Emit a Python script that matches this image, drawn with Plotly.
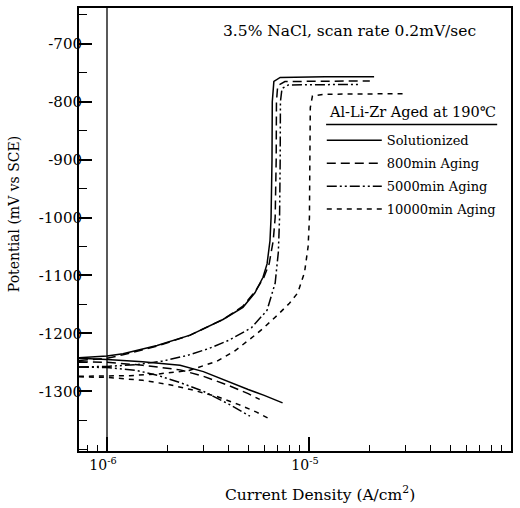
import plotly.graph_objects as go

# ---------------- data (current density A/cm^2, potential mV vs SCE) ----------------
series_names = ["Solutionized", "800min Aging", "5000min Aging", "10000min Aging"]

sol_anod_i = [7.26e-7, 1.0e-6, 1.2e-6, 1.77e-6, 2.58e-6, 3.75e-6, 4.71e-6, 5.4e-6, 5.92e-6,
              6.2e-6, 6.41e-6, 6.49e-6, 6.56e-6, 6.58e-6, 6.7e-6, 7.2e-6, 1.2e-5, 2.1e-5]
sol_anod_E = [-1242, -1239, -1235, -1221, -1203, -1176, -1155, -1130, -1103,
              -1080, -1040, -1000, -900, -800, -765, -758, -757, -757]
sol_cath_i = [7.26e-7, 1.0e-6, 1.5e-6, 2.3e-6, 3.0e-6, 4.0e-6, 5.0e-6, 6.0e-6, 7.4e-6]
sol_cath_E = [-1243, -1245, -1249, -1255, -1266, -1284, -1297, -1307, -1320]

a800_anod_i = [7.26e-7, 1.0e-6, 1.2e-6, 1.77e-6, 2.58e-6, 3.75e-6, 4.71e-6, 5.4e-6, 5.95e-6,
               6.35e-6, 6.65e-6, 6.8e-6, 6.88e-6, 6.9e-6, 7.0e-6, 7.6e-6, 2.0e-5]
a800_anod_E = [-1247, -1243, -1237, -1222, -1203, -1176, -1153, -1128, -1105,
               -1080, -1040, -1000, -900, -800, -772, -765, -764]
a800_cath_i = [7.26e-7, 1.0e-6, 1.5e-6, 2.3e-6, 3.0e-6, 4.0e-6, 5.0e-6, 5.7e-6]
a800_cath_E = [-1249, -1250, -1255, -1263, -1274, -1290, -1304, -1314]

a5000_anod_i = [7.26e-7, 1.0e-6, 1.4e-6, 1.87e-6, 2.5e-6, 3.2e-6, 4.0e-6, 5.2e-6, 6.2e-6,
                6.8e-6, 7.05e-6, 7.15e-6, 7.2e-6, 7.22e-6, 7.35e-6, 7.9e-6, 1.75e-5]
a5000_anod_E = [-1258, -1257, -1254, -1248, -1238, -1226, -1212, -1190, -1160,
                -1113, -1060, -1000, -900, -800, -777, -771, -770]
a5000_cath_i = [7.26e-7, 1.0e-6, 1.4e-6, 1.8e-6, 2.3e-6, 3.0e-6, 4.0e-6, 5.1e-6]
a5000_cath_E = [-1258, -1259, -1264, -1273, -1285, -1300, -1322, -1343]

a10000_anod_i = [7.26e-7, 1.0e-6, 1.3e-6, 1.8e-6, 2.55e-6, 3.5e-6, 4.3e-6, 5.1e-6, 5.9e-6,
                 7.0e-6, 8.0e-6, 8.8e-6, 9.5e-6, 9.9e-6, 1.005e-5, 1.01e-5, 1.015e-5,
                 1.04e-5, 1.2e-5, 3.05e-5]
a10000_anod_E = [-1274, -1274, -1273, -1270, -1264, -1248, -1230, -1210, -1192,
                 -1168, -1148, -1130, -1095, -1050, -1000, -900, -810,
                 -790, -787, -786]
a10000_cath_i = [7.26e-7, 1.0e-6, 1.5e-6, 2.0e-6, 2.6e-6, 3.5e-6, 4.5e-6, 5.5e-6, 6.4e-6]
a10000_cath_E = [-1275, -1276, -1281, -1288, -1297, -1309, -1323, -1336, -1348]

ref_current = 1e-6  # vertical reference line at 10^-6 A/cm^2

y_tick_vals = [-700, -800, -900, -1000, -1100, -1200, -1300]
y_tick_text = ["-700", "-800", "-900", "-1000", "-1100", "-1200", "-1300"]
x_tick_vals = [1e-6, 1e-5, 1e-4]
x_tick_text = ["10<sup>-6</sup>", "10<sup>-5</sup>", "10<sup>-4</sup>"]
x_minor_vals = [m * 10.0 ** e for e in (-7, -6, -5) for m in range(2, 10)]

FONT = "DejaVu Serif"

fig = go.Figure()

branches = [
    (series_names[0], sol_anod_i, sol_anod_E, sol_cath_i, sol_cath_E, "solid"),
    (series_names[1], a800_anod_i, a800_anod_E, a800_cath_i, a800_cath_E, "9px,5px"),
    (series_names[2], a5000_anod_i, a5000_anod_E, a5000_cath_i, a5000_cath_E, "10px,3px,2px,3px,2px,3px"),
    (series_names[3], a10000_anod_i, a10000_anod_E, a10000_cath_i, a10000_cath_E, "5px,5px"),
]
for name, ai, ae, ci, ce, dash in branches:
    fig.add_trace(go.Scatter(
        x=list(ai) + [None] + list(ci),
        y=list(ae) + [None] + list(ce),
        mode="lines", name=name, legendgroup=name,
        line=dict(color="black", width=1.5, dash=dash),
        connectgaps=False, showlegend=True,
    ))

# vertical reference line (shape x is in data units on a log axis)
fig.add_shape(type="line", xref="x", yref="y domain",
              x0=ref_current, x1=ref_current, y0=0, y1=1,
              line=dict(color="black", width=1.3))
# underline of the legend heading
fig.add_shape(type="line", xref="paper", yref="paper",
              x0=0.572, x1=0.968, y0=0.737, y1=0.737,
              line=dict(color="black", width=1.3))

fig.update_layout(
    width=520, height=508,
    margin=dict(l=79, r=9, t=6, b=57),
    paper_bgcolor="white", plot_bgcolor="white",
    font=dict(family=FONT, size=14, color="black"),
    showlegend=True,
    legend=dict(
        x=0.562, y=0.735, xanchor="left", yanchor="top",
        bgcolor="rgba(0,0,0,0)", borderwidth=0,
        font=dict(family=FONT, size=13, color="black"),
        itemwidth=55, tracegroupgap=3,
    ),
    xaxis=dict(
        type="log", range=[-6.1386, -4.0],
        tickmode="array", tickvals=x_tick_vals, ticktext=x_tick_text,
        ticks="inside", ticklen=14, tickwidth=1.5, tickcolor="black",
        showline=True, linewidth=2, linecolor="black", mirror=True,
        showgrid=False, zeroline=False,
        minor=dict(tickmode="array", tickvals=x_minor_vals, ticks="inside",
                   ticklen=6, tickwidth=1.3, tickcolor="black", showgrid=False),
        tickfont=dict(family=FONT, size=14),
        ticklabelshift=-4,
    ),
    yaxis=dict(
        range=[-1403.1, -638.1],
        tickmode="array", tickvals=y_tick_vals, ticktext=y_tick_text,
        ticks="inside", ticklen=13, tickwidth=1.5, tickcolor="black",
        showline=True, linewidth=2, linecolor="black", mirror=True,
        showgrid=False, zeroline=False,
        minor=dict(dtick=50, ticks="inside", ticklen=8, tickwidth=1.3,
                   tickcolor="black", showgrid=False),
        tickfont=dict(family=FONT, size=15),
        ticklabelstandoff=-8,
    ),
    annotations=[
        dict(text="3.5% NaCl, scan rate 0.2mV/sec", xref="paper", yref="paper",
             x=0.627, y=0.948, xanchor="center", yanchor="middle", showarrow=False,
             font=dict(family=FONT, size=15.5, color="black")),
        dict(text="Al-Li-Zr Aged at 190℃", xref="paper", yref="paper",
             x=0.771, y=0.766, xanchor="center", yanchor="middle", showarrow=False,
             font=dict(family=FONT, size=14.5, color="black")),
        dict(text="Current Density (A/cm<sup>2</sup>)", xref="paper", yref="paper",
             x=0.558, y=-0.097, xanchor="center", yanchor="middle", showarrow=False,
             font=dict(family=FONT, size=15.5, color="black")),
        dict(text="Potential (mV vs SCE)", xref="paper", y=0.535, yref="paper",
             x=-0.15, xanchor="center", yanchor="middle", textangle=-90, showarrow=False,
             font=dict(family=FONT, size=14, color="black")),
    ],
)

fig.write_html("out.html")
